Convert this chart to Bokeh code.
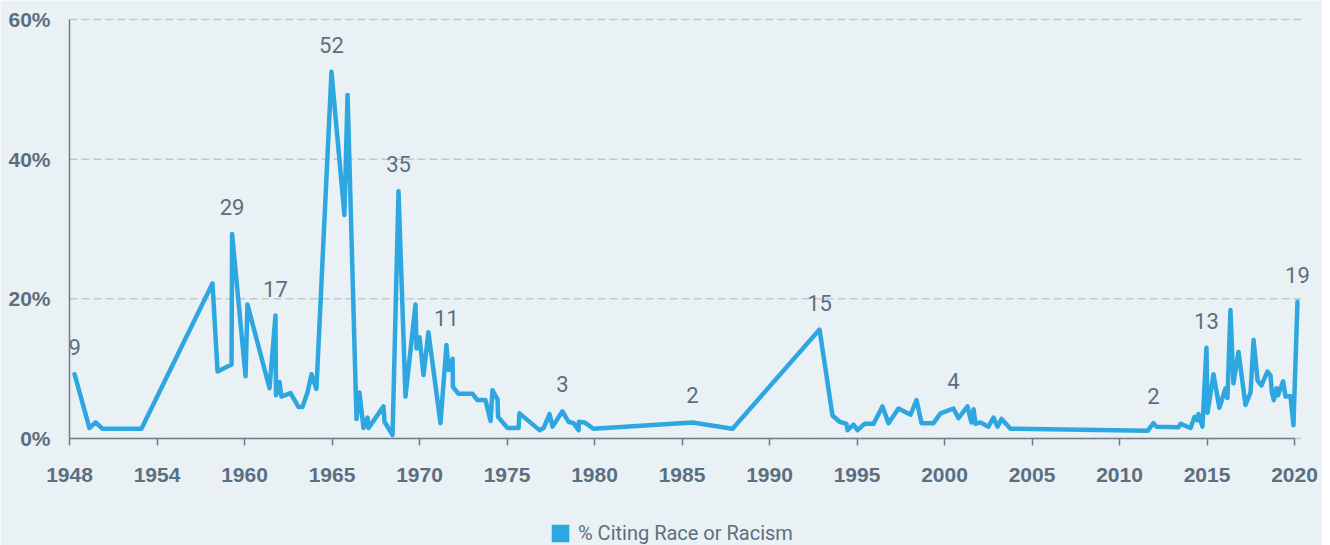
from bokeh.plotting import figure
from bokeh.models import ColumnDataSource, Range1d, FixedTicker, Legend, LegendItem
from bokeh.core.properties import value
from bokeh.embed import file_html
from bokeh.resources import INLINE

# ---- data ----
years = [
    1950.29, 1951.14, 1951.49, 1951.89, 1954.11, 1958.17, 1958.46, 1959.26, 1959.29, 1960.06,
    1960.17, 1961.43, 1961.77, 1961.80, 1962.00, 1962.11, 1962.63, 1963.09, 1963.31, 1963.60,
    1963.83, 1964.11, 1964.97, 1965.71, 1965.89, 1966.40, 1966.57, 1966.80, 1967.03, 1967.09,
    1967.94, 1968.00, 1968.46, 1968.80, 1969.20, 1969.77, 1969.83, 1970.00, 1970.23, 1970.51,
    1971.20, 1971.54, 1971.66, 1971.89, 1971.91, 1972.23, 1973.03, 1973.31, 1973.77, 1974.06,
    1974.17, 1974.46, 1974.49, 1975.03, 1975.66, 1975.71, 1976.86, 1977.09, 1977.43, 1977.60,
    1978.17, 1978.51, 1978.80, 1979.09, 1979.11, 1979.43, 1979.94, 1985.60, 1987.89, 1992.86,
    1993.60, 1994.00, 1994.40, 1994.46, 1994.80, 1995.03, 1995.43, 1995.94, 1996.46, 1996.80,
    1997.37, 1998.06, 1998.40, 1998.69, 1999.37, 1999.77, 2000.51, 2000.80, 2001.31, 2001.54,
    2001.66, 2001.77, 2002.06, 2002.51, 2002.80, 2003.03, 2003.26, 2003.77, 2011.60, 2011.94,
    2012.11, 2013.37, 2013.49, 2014.06, 2014.29, 2014.46, 2014.51, 2014.74, 2014.97, 2015.03,
    2015.37, 2015.71, 2016.06, 2016.17, 2016.34, 2016.51, 2016.80, 2017.20, 2017.49, 2017.66,
    2017.89, 2018.11, 2018.46, 2018.63, 2018.71, 2018.82, 2018.97, 2019.06, 2019.35, 2019.49,
    2019.77, 2019.94, 2020.17,
]
pct = [
    9.2, 1.5, 2.3, 1.4, 1.4, 22.2, 9.6, 10.6, 29.3, 8.9,
    19.2, 7.2, 17.6, 6.2, 8.1, 6.0, 6.5, 4.5, 4.5, 6.6,
    9.2, 7.1, 52.5, 32.0, 49.2, 2.8, 6.6, 1.5, 3.0, 1.5,
    4.6, 2.4, 0.5, 35.4, 6.0, 19.2, 12.9, 14.5, 9.1, 15.2,
    2.2, 13.4, 9.8, 11.4, 7.4, 6.4, 6.4, 5.5, 5.5, 2.5,
    6.9, 5.6, 3.1, 1.5, 1.5, 3.6, 1.2, 1.5, 3.5, 1.7,
    3.9, 2.4, 2.2, 1.2, 2.4, 2.3, 1.4, 2.3, 1.4, 15.6,
    3.3, 2.4, 2.1, 1.2, 2.0, 1.2, 2.1, 2.1, 4.6, 2.2,
    4.3, 3.4, 5.5, 2.2, 2.2, 3.6, 4.3, 2.9, 4.6, 2.3,
    4.2, 2.1, 2.3, 1.7, 3.0, 1.7, 2.8, 1.4, 1.1, 2.2,
    1.7, 1.6, 2.1, 1.5, 3.1, 2.6, 3.5, 1.7, 13.0, 3.7,
    9.2, 4.4, 7.2, 5.8, 18.4, 7.9, 12.4, 4.8, 6.6, 14.1,
    8.3, 7.6, 9.6, 9.0, 6.6, 5.5, 7.2, 6.2, 8.2, 6.0,
    6.1, 1.9, 19.6,
]

ann_years = [1950.29, 1959.29, 1961.77, 1964.97, 1968.80, 1971.54, 1978.17,
             1985.60, 1992.86, 2000.51, 2011.94, 2014.97, 2020.17]
ann_text = ["9", "29", "17", "52", "35", "11", "3", "2", "15", "4", "2", "13", "19"]

tick_pos = [1950, 1955, 1960, 1965, 1970, 1975, 1980, 1985, 1990, 1995, 2000, 2005, 2010, 2015, 2020]
tick_labels = ["1948", "1954", "1960", "1965", "1970", "1975", "1980", "1985", "1990",
               "1995", "2000", "2005", "2010", "2015", "2020"]
y_ticks = [0, 20, 40, 60]
y_labels = ["0%", "20%", "40%", "60%"]
series_name = "% Citing Race or Racism"

# ---- styles ----
BG = "#eaf1f5"
BLUE = "#2ea7e0"
SLATE = "#5a6f80"
AXIS = "#6f7d88"
GRID = "#c2c8cd"
AX_X0, AX_X1 = 1950, 2020          # extent of the x axis line
AX_Y0, AX_Y1 = 0, 60               # extent of the y axis line
X_START, X_END = 1946.057, 2021.6  # frame covers the whole canvas
Y_START, Y_END = -15.32, 62.72
GRID_END = 2020.5                  # dashed grid lines stop here

p = figure(width=1322, height=545, output_backend="svg", toolbar_location=None,
           x_range=Range1d(X_START, X_END), y_range=Range1d(Y_START, Y_END),
           min_border_left=0, min_border_right=0, min_border_top=0, min_border_bottom=0,
           background_fill_color=BG, border_fill_color=BG, outline_line_color=None)

# dashed horizontal grid lines (stop short of the right edge like the reference)
grid_src = ColumnDataSource(dict(x0=[AX_X0] * len(y_ticks), x1=[GRID_END] * len(y_ticks),
                                 y=y_ticks))
p.segment(x0="x0", y0="y", x1="x1", y1="y", source=grid_src,
          line_color=GRID, line_width=1.5, line_dash="8 4")

src = ColumnDataSource(dict(x=years, y=pct))
p.line("x", "y", source=src, line_color=BLUE, line_width=4.5, line_join="round", line_cap="round")

# zero-width bars: invisible on the plot, give the legend its square swatch
swatch = p.vbar(x="x", top="y", bottom=0, width=0, source=src,
                fill_color=BLUE, line_color=None)

ann_y = [pct[years.index(yv)] for yv in ann_years]
ann_src = ColumnDataSource(dict(x=ann_years, y=ann_y, t=ann_text))
p.text("x", "y", text="t", source=ann_src, text_align="center", text_baseline="alphabetic",
       y_offset=-27, text_font=value("Roboto"), text_font_size="22px", text_color=SLATE)

legend = Legend(items=[LegendItem(label=series_name, renderers=[swatch])],
                location=(549, 0), orientation="horizontal",
                background_fill_alpha=0, border_line_color=None, padding=0, margin=0,
                glyph_width=22, glyph_height=22, label_standoff=7,
                label_text_font="Roboto", label_text_font_size="20px", label_text_color=SLATE)
p.add_layout(legend)

# axes (drawn at fixed data locations inside the frame)
p.xaxis.ticker = FixedTicker(ticks=tick_pos)
p.xaxis.major_label_overrides = {t: l for t, l in zip(tick_pos, tick_labels)}
p.xaxis.bounds = (AX_X0, AX_X1)
p.xaxis.fixed_location = AX_Y0
p.yaxis.ticker = FixedTicker(ticks=y_ticks)
p.yaxis.major_label_overrides = {t: l for t, l in zip(y_ticks, y_labels)}
p.yaxis.bounds = (AX_Y0, AX_Y1)
p.yaxis.fixed_location = AX_X0

for ax in (p.xaxis, p.yaxis):
    ax.axis_line_color = AXIS
    ax.axis_line_width = 1.5
    ax.major_tick_line_color = AXIS
    ax.major_tick_line_width = 1.5
    ax.minor_tick_line_color = None
    ax.major_label_text_font = "Liberation Sans"
    ax.major_label_text_font_style = "bold"
    ax.major_label_text_font_size = "21px"
    ax.major_label_text_color = SLATE

p.xaxis.major_tick_out = 7
p.xaxis.major_tick_in = 0
p.xaxis.major_label_standoff = 22
p.yaxis.major_tick_out = 0
p.yaxis.major_tick_in = 0
p.yaxis.major_label_standoff = 19

p.xgrid.visible = False
p.ygrid.visible = False

open("out.html", "w").write(file_html(p, INLINE))
